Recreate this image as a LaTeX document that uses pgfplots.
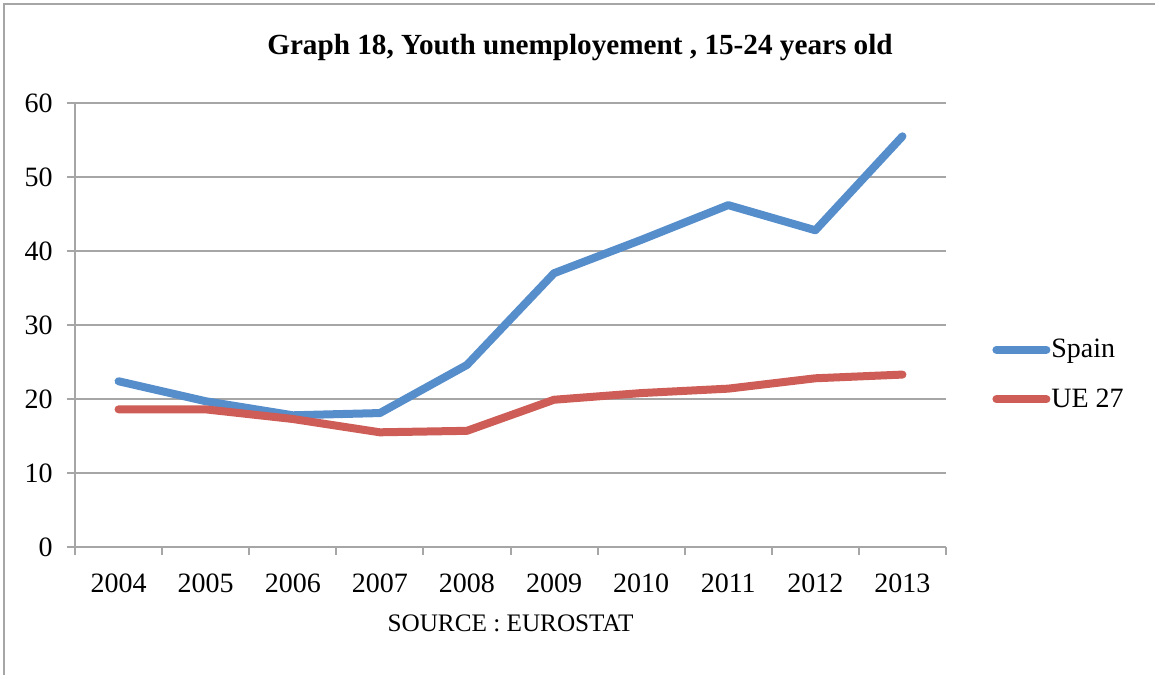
\documentclass[border=0pt]{standalone}
\usepackage{fontspec}
\setmainfont{Liberation Serif}
\usepackage{pgfplots}
\pgfplotsset{compat=1.18}

\definecolor{spainblue}{RGB}{86,141,203}
\definecolor{uered}{RGB}{205,93,86}
\definecolor{gridgray}{RGB}{166,166,166}

\begin{document}
\begin{tikzpicture}
\useasboundingbox (0,0) rectangle (577.5pt,337.5pt);
% outer frame (only left and top edges are visible)
\draw[gridgray, line width=1pt] (2pt,0) -- (2pt,335.5pt) -- (577.5pt,335.5pt);

\node[font=\fontsize{14.6}{17}\selectfont\bfseries] at (290pt,313.5pt)
  {Graph 18, Youth unemployement , 15-24 years old};

\begin{axis}[
  at={(37.5pt,64pt)}, anchor=south west,
  scale only axis,
  width=435.5pt, height=222pt,
  xmin=0.5, xmax=10.5,
  ymin=0, ymax=60,
  ytick={0,10,...,60},
  xtick={1,...,10},
  xticklabels={2004,2005,2006,2007,2008,2009,2010,2011,2012,2013},
  minor xtick={0.5,1.5,...,10.5},
  major x tick style={draw=none},
  tick align=outside,
  major tick length=4pt,
  minor tick length=4pt,
  tick style={gridgray, line width=1pt},
  axis x line*=bottom,
  axis y line*=left,
  axis line style={gridgray, line width=1pt, -},
  ymajorgrids,
  grid style={gridgray, line width=1pt},
  tick label style={font=\fontsize{14}{16}\selectfont},
  /pgf/number format/assume math mode=true,
  yticklabel style={inner sep=0pt, xshift=-7pt},
  xticklabel style={yshift=-6pt},
  xlabel={SOURCE : EUROSTAT},
  xlabel style={font=\fontsize{12.6}{15}\selectfont, at={(axis description cs:0.5,0)}, anchor=center, yshift=-38pt},
  legend style={draw=none, fill=none, at={(1.0528,0.3885)}, anchor=west,
    font=\fontsize{14}{16}\selectfont, inner sep=0pt, row sep=13pt,
    nodes={inner sep=0.5pt}},
  legend cell align=left,
  legend image code/.code={\draw[#1, line cap=round] (0pt,0pt) -- (25pt,0pt);},
  clip=false,
]
\addplot[spainblue, line width=4pt, line join=round, line cap=round] coordinates {
  (1,22.4) (2,19.7) (3,17.8) (4,18.1) (5,24.6)
  (6,37.0) (7,41.5) (8,46.2) (9,42.8) (10,55.5)
};
\addlegendentry{Spain}
\addplot[uered, line width=4pt, line join=round, line cap=round] coordinates {
  (1,18.6) (2,18.6) (3,17.3) (4,15.5) (5,15.7)
  (6,19.9) (7,20.8) (8,21.4) (9,22.8) (10,23.3)
};
\addlegendentry{UE 27}
\end{axis}
\end{tikzpicture}
\end{document}
